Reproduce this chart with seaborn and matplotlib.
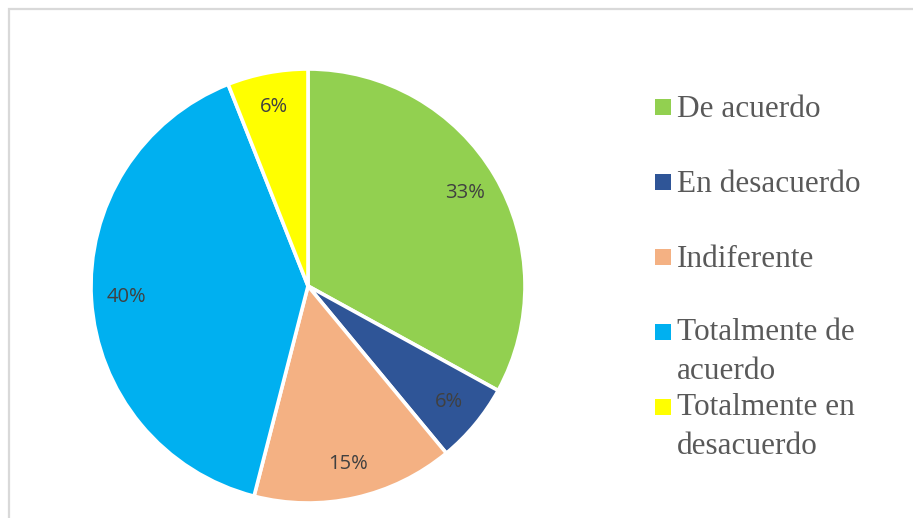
import matplotlib.pyplot as plt
import matplotlib.patches as mpatches
import seaborn as sns

# Survey answers (share of respondents, %)
categories = [
    "De acuerdo",
    "En desacuerdo",
    "Indiferente",
    "Totalmente de\nacuerdo",
    "Totalmente en\ndesacuerdo",
]
shares = [33, 6, 15, 40, 6]
colors = ["#92D050", "#2F5597", "#F4B183", "#00B0F0", "#FFFF00"]

W, H = 913, 518
sns.set_theme(style="white")
plt.rcParams["font.family"] = ["Open Sans", "DejaVu Sans"]

fig = plt.figure(figsize=(W / 100, H / 100), dpi=100)

# 1. Pie axes placed so that the circle sits at (308, 286) px, radius 217 px
cx, cy, r = 308, 286, 217
ax = fig.add_axes([(cx - r) / W, (H - cy - r) / H, 2 * r / W, 2 * r / H])
wedges, texts, autotexts = ax.pie(
    shares,
    colors=colors,
    startangle=90,
    counterclock=False,
    autopct="%1.0f%%",
    pctdistance=0.84,
    wedgeprops=dict(edgecolor="white", linewidth=2.6),
    textprops=dict(color="#404040", fontsize=14.5),
)
ax.set_xlim(-1, 1)
ax.set_ylim(-1, 1)
ax.set_aspect("equal")
for w in wedges:
    w.set_clip_on(False)

# 2. Hand-placed legend (serif text, square markers)
# (va="baseline" anchors the last line, so wrapped labels are pushed down one line)
row_top = 107
row_step = 75
line_step = 37
for i, (label, color) in enumerate(zip(categories, colors)):
    y = row_top + i * row_step
    n_extra = label.count("\n")
    fig.patches.append(
        mpatches.Rectangle(
            (655 / W, 1 - (y + 8) / H),
            16 / W,
            16 / H,
            transform=fig.transFigure,
            facecolor=color,
            edgecolor="none",
        )
    )
    fig.text(
        677 / W,
        1 - (y + 10 + n_extra * line_step) / H,
        label,
        ha="left",
        va="baseline",
        fontsize=22.5,
        color="#595959",
        family=["Liberation Serif", "DejaVu Serif"],
        linespacing=1.45,
    )

# 3. Light grey chart frame (top and left edges visible)
fig.patches.append(
    mpatches.Rectangle(
        (9 / W, -1),
        2,
        1 + (H - 9) / H,
        transform=fig.transFigure,
        fill=False,
        edgecolor="#D9D9D9",
        linewidth=1.6,
    )
)

fig.savefig("out.png", dpi=100)
plt.close(fig)
